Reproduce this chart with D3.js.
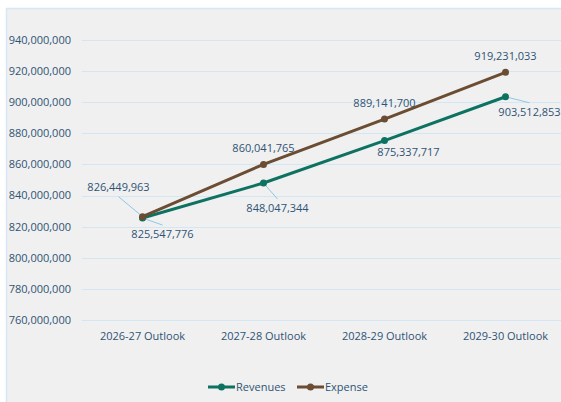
<!DOCTYPE html>
<html>
<head>
<meta charset="utf-8">
<script src="https://cdn.jsdelivr.net/npm/d3@7"></script>
<style>
  body { margin: 0; background: #fff; }
  svg { display: block; font-family: "Open Sans", "Noto Sans", sans-serif; }
</style>
</head>
<body>
<svg id="chart" width="561" height="402"></svg>
<script>
// data
var categories = ['2026-27 Outlook', '2027-28 Outlook', '2028-29 Outlook', '2029-30 Outlook'];
var revenues = [825547776, 848047344, 875337717, 903512853];
var expense = [826449963, 860041765, 889141700, 919231033];
var yTicks = [760000000, 780000000, 800000000, 820000000, 840000000, 860000000, 880000000, 900000000, 920000000, 940000000];

// label placement (dx, dy from point, leader line yes/no)
var revLabelPos = [[20, 16, true], [14, 25, true], [24, 12, false], [24, 15, true]];
var expLabelPos = [[-24, -29, true], [0, -16, false], [0, -16, false], [0, -16, false]];

var textColor = '#2f5374';
var gridColor = '#d3e6f3';
var leaderColor = '#8cc8e8';

var svg = d3.select('#chart');

// panel
svg.append('rect')
    .attr('x', 6.5).attr('y', 8.5)
    .attr('width', 600).attr('height', 420)
    .attr('fill', '#f0f0f0')
    .attr('stroke', '#d6e8f5')
    .attr('stroke-width', 1.5);

var x = d3.scaleBand().domain(categories).range([82, 566]);
var y = d3.scaleLinear().domain([760000000, 940000000]).range([320, 40]);

var fmt = d3.format(',');

// grid + y labels
var grid = svg.append('g');
grid.selectAll('line')
    .data(yTicks)
    .enter()
    .append('line')
    .attr('x1', 82).attr('x2', 561)
    .attr('y1', d => Math.round(y(d)) + 0.5)
    .attr('y2', d => Math.round(y(d)) + 0.5)
    .attr('stroke', gridColor)
    .attr('stroke-width', 1);

grid.selectAll('text')
    .data(yTicks)
    .enter()
    .append('text')
    .attr('x', 71)
    .attr('y', d => y(d))
    .attr('dy', '0.35em')
    .attr('text-anchor', 'end')
    .attr('font-size', 11)
    .attr('fill', textColor)
    .text(fmt);

// x labels
svg.append('g').selectAll('text')
    .data(categories)
    .enter()
    .append('text')
    .attr('x', d => x(d) + x.bandwidth() / 2)
    .attr('y', 336)
    .attr('dy', '0.35em')
    .attr('text-anchor', 'middle')
    .attr('font-size', 11)
    .attr('fill', textColor)
    .text(d => d);

var cx = (d, i) => x(categories[i]) + x.bandwidth() / 2;

var series = [
    {name: 'Revenues', values: revenues, color: '#0e7262', pos: revLabelPos},
    {name: 'Expense', values: expense, color: '#6a4d32', pos: expLabelPos}
];

var line = d3.line()
    .x(cx)
    .y(d => y(d));

// leader lines first so they sit under markers
series.forEach(s => {
    s.values.forEach((v, i) => {
        var p = s.pos[i];
        if (!p[2]) return;
        var px = cx(v, i), py = y(v);
        var ex = px + p[0], ey = py + p[1] + (p[1] > 0 ? -9 : 9);
        svg.append('line')
            .attr('x1', px).attr('y1', py)
            .attr('x2', ex).attr('y2', ey)
            .attr('stroke', leaderColor)
            .attr('stroke-width', 1);
    });
});

series.forEach(s => {
    svg.append('path')
        .datum(s.values)
        .attr('d', line)
        .attr('fill', 'none')
        .attr('stroke', s.color)
        .attr('stroke-width', 3);

    svg.append('g').selectAll('circle')
        .data(s.values)
        .enter()
        .append('circle')
        .attr('cx', cx)
        .attr('cy', d => y(d))
        .attr('r', 3.5)
        .attr('fill', s.color);
});

series.forEach(s => {
    svg.append('g').selectAll('text')
        .data(s.values)
        .enter()
        .append('text')
        .attr('x', (d, i) => cx(d, i) + s.pos[i][0])
        .attr('y', (d, i) => y(d) + s.pos[i][1])
        .attr('dy', '0.35em')
        .attr('text-anchor', 'middle')
        .attr('font-size', 11)
        .attr('fill', textColor)
        .text(fmt);
});

// legend
var legend = svg.append('g');
var lx = [208, 297];
series.forEach((s, i) => {
    var g = legend.append('g').attr('transform', `translate(${lx[i]}, 387)`);
    g.append('line')
        .attr('x1', 0).attr('x2', 27)
        .attr('stroke', s.color)
        .attr('stroke-width', 3);
    g.append('circle')
        .attr('cx', 13.5)
        .attr('r', 3.5)
        .attr('fill', s.color);
    g.append('text')
        .attr('x', 28)
        .attr('dy', '0.35em')
        .attr('font-size', 11)
        .attr('fill', textColor)
        .text(s.name);
});
</script>
</body>
</html>
